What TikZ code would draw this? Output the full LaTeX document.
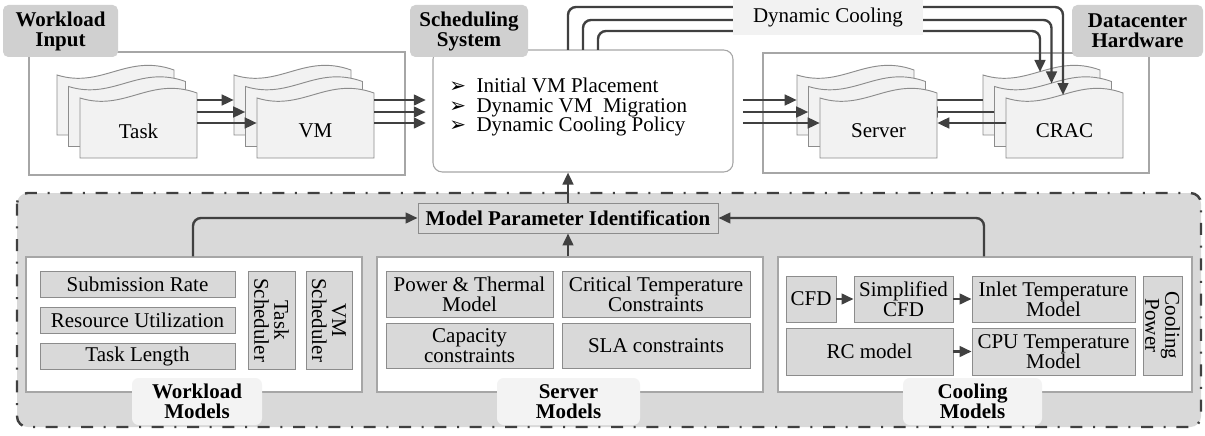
\documentclass[tikz,border=0pt]{standalone}
\usepackage{fontspec}
\setmainfont{Liberation Serif}
\newfontfamily\symf{DejaVu Sans}
\usetikzlibrary{fit,arrows.meta}
\definecolor{lblgray}{HTML}{D0D0D0}
\definecolor{lightlbl}{HTML}{F3F3F3}
\definecolor{itemgray}{HTML}{D9D9D9}
\definecolor{bggray}{HTML}{D9D9D9}
\definecolor{docfill}{HTML}{F2F2F2}
\definecolor{bordc}{HTML}{A6A6A6}
\definecolor{itembord}{HTML}{8C8C8C}
\definecolor{arrowc}{HTML}{404040}
\newcommand{\fsz}{\fontsize{15.75}{15}\selectfont}
\newcommand{\wdoc}[3]{%
  \path[docshape] (#1,#2) .. controls ({#1+45},{#2+14}) and ({#1+70},{#2-22}) .. ({#1+117},{#2-5}) -- ({#1+117},{#2+60}) -- (#1,{#2+60}) -- cycle;
  \node[inner sep=0pt, fit={(#1,#2)({#1+117},{#2+60})}] (#3) {};
  \coordinate (#3-top) at ({#1+57},{#2-3});
}
% box node from pixel corners: name, x0, y0, x1, y1, style, text
\newcommand{\bnode}[7]{%
  \pgfmathsetmacro\bw{(#4-#2)*0.75}\pgfmathsetmacro\bh{(#5-#3)*0.75}%
  \node[#6, minimum width=\bw pt, minimum height=\bh pt] (#1) at ({(#2+#4)/2},{(#3+#5)/2}) {#7};}
% rotated (-90) box node
\newcommand{\rbnode}[7]{%
  \pgfmathsetmacro\bw{(#4-#2)*0.75}\pgfmathsetmacro\bh{(#5-#3)*0.75}%
  \node[#6, rotate=-90, minimum width=\bh pt, minimum height=\bw pt] (#1) at ({(#2+#4)/2},{(#3+#5)/2}) {#7};}
\newcommand{\blt}{{\symf\fontsize{15}{15}\selectfont ➢}\ \ }
\begin{document}
\begin{tikzpicture}[x=0.75pt,y=-0.75pt,
  panel/.style={draw=bordc, fill=white, line width=0.8pt, inner sep=0pt},
  lbl/.style={fill=lblgray, rounded corners=4pt, inner sep=0pt, font=\fsz\bfseries, align=center},
  mlbl/.style={fill=lightlbl, rounded corners=5pt, inner sep=0pt, font=\fsz\bfseries, align=center},
  item/.style={draw=itembord, fill=itemgray, line width=0.7pt, inner sep=0pt, font=\fsz, align=center},
  arr/.style={draw=arrowc, line width=1.8pt, -{Triangle[length=9pt,width=8pt]}},
  docshape/.style={draw=itembord, fill=docfill, line width=0.7pt},
  txt/.style={font=\fsz, align=center, inner sep=0pt}
]
\useasboundingbox[fill=white] (0,0) rectangle (1205,435);

% ---------- top panels ----------
\node[panel, fit={(29,52)(405,175)}] (wipanel) {};
\node[panel, fit={(763,53)(1149,173)}] (dhpanel) {};
\node[draw=bordc, fill=white, line width=0.8pt, rounded corners=7pt, inner sep=0pt, fit={(433,50)(733,172)}] (sched) {};

\coordinate (dc1) at (568,50);
\coordinate (dc2) at (583,50);
\coordinate (dc3) at (598,50);

% ---------- document stacks ----------
\wdoc{57}{75}{task1}\wdoc{68.5}{86.5}{task2}\wdoc{80}{98}{task3}
\wdoc{234}{75}{vm1}\wdoc{245.5}{86.5}{vm2}\wdoc{257}{98}{vm3}
\wdoc{983}{75}{crac1}\wdoc{994.5}{86.5}{crac2}\wdoc{1006}{98}{crac3}
\wdoc{797}{75}{srv1}
\draw[arr] (crac1.west |- 0,100) -- (srv1.east |- 0,100);
\wdoc{808.5}{86.5}{srv2}
\draw[arr] (crac2.west |- 0,112) -- (srv2.east |- 0,112);
\wdoc{820}{98}{srv3}
\draw[arr] (crac3.west |- 0,123) -- (srv3.east |- 0,123);

\node[txt] (tasktxt) at (138.5,131) {Task};
\node[txt] (vmtxt) at (315.5,131) {VM};
\node[txt] (srvtxt) at (878.5,131) {Server};
\node[txt] (cractxt) at (1064.5,131) {CRAC};

% arrows task -> vm
\draw[arr] (task3.east |- 0,100) -- (vm1.west |- 0,100);
\draw[arr] (task3.east |- 0,112) -- (vm2.west |- 0,112);
\draw[arr] (task3.east |- 0,123) -- (vm3.west |- 0,123);
% arrows vm -> sched
\draw[arr, shorten >=5pt] (vm3.east |- 0,100) -- (sched.west |- 0,100);
\draw[arr, shorten >=5pt] (vm3.east |- 0,112) -- (sched.west |- 0,112);
\draw[arr, shorten >=5pt] (vm3.east |- 0,123) -- (sched.west |- 0,123);
% arrows sched -> server
\draw[arr, shorten <=7pt] (sched.east |- 0,100) -- (srv1.west |- 0,100);
\draw[arr, shorten <=7pt] (sched.east |- 0,112) -- (srv2.west |- 0,112);
\draw[arr, shorten <=7pt] (sched.east |- 0,123) -- (srv3.west |- 0,123);

% dynamic cooling lines
\draw[arr, rounded corners=6pt] (dc1) |- (crac3-top |- 0,7) -- (crac3-top);
\draw[arr, rounded corners=6pt] (dc2) |- (crac2-top |- 0,20) -- (crac2-top);
\draw[arr, rounded corners=6pt] (dc3) |- (crac1-top |- 0,31) -- (crac1-top);
\bnode{dyncool}{733}{0}{923}{35}{fill=docfill, inner sep=0pt, font=\fsz}{Dynamic Cooling}

% scheduling text
\node[txt, align=left, anchor=west, font=\fontsize{15.75}{14.5}\selectfont] (schedtxt) at (449,107)
 {\blt Initial VM Placement\\
  \blt Dynamic VM\ \ Migration\\
  \blt Dynamic Cooling Policy};

% top labels
\bnode{wilbl}{3}{5}{118}{57}{lbl}{Workload\\Input}
\bnode{sslbl}{410}{5}{528}{57}{lbl}{Scheduling\\System}
\bnode{dhlbl}{1072}{5}{1203}{57}{lbl}{Datacenter\\Hardware}

% ---------- bottom ----------
\path[fill=bggray, draw=arrowc, line width=1.8pt, rounded corners=8pt,
  dash pattern=on 9pt off 8pt on 1.5pt off 8pt] (17,193) rectangle (1201,427);

\bnode{mpi}{418}{203}{718}{233}{item, font=\fsz\bfseries}{Model Parameter Identification}

\node[panel, fit={(26,257)(362,392)}] (wm) {};
\node[panel, fit={(377,257)(763,392)}] (sm) {};
\node[panel, fit={(778,257)(1192,392)}] (cm) {};

\bnode{wmlbl}{132}{378}{262}{425}{mlbl}{Workload\\Models}
\bnode{smlbl}{497}{378}{640}{425}{mlbl}{Server\\Models}
\bnode{cmlbl}{903}{378}{1042}{425}{mlbl}{Cooling\\Models}

\bnode{sr}{40}{271}{235}{297}{item}{Submission Rate}
\bnode{ru}{40}{307}{235}{333}{item}{Resource Utilization}
\bnode{tl}{40}{343}{235}{369}{item}{Task Length}
\rbnode{ts}{248}{271}{295}{369}{item}{Task\\Scheduler}
\rbnode{vs}{306}{271}{352}{369}{item}{VM\\Scheduler}

\bnode{pt}{386}{271}{553}{317}{item}{Power \& Thermal\\Model}
\bnode{ct}{562}{271}{750}{317}{item}{Critical Temperature\\Constraints}
\bnode{cc}{386}{323}{553}{368}{item}{Capacity\\constraints}
\bnode{sla}{562}{323}{750}{368}{item}{SLA constraints}

\bnode{cfd}{786}{276}{836}{322}{item}{CFD}
\bnode{scfd}{854}{276}{953}{322}{item}{Simplified\\CFD}
\bnode{itm}{972}{276}{1135}{322}{item}{Inlet Temperature\\Model}
\bnode{rc}{786}{328}{953}{375}{item}{RC model}
\bnode{cpu}{972}{328}{1135}{375}{item}{CPU Temperature\\Model}
\rbnode{cp}{1143}{276}{1182}{375}{item}{Cooling\\Power}

\draw[arr] (cfd) -- (scfd);
\draw[arr] (scfd) -- (itm);
\draw[arr] (rc.east |- cpu.west) -- (cpu.west);

\draw[arr] (mpi.north) -- (mpi.north |- sched.south);
\draw[arr] (mpi.south |- sm.north) -- (mpi.south);
\draw[arr, rounded corners=6pt] (wm.north -| 193,0) |- (mpi.west);
\draw[arr, rounded corners=6pt] (cm.north -| 984,0) |- (mpi.east);
\end{tikzpicture}
\end{document}
